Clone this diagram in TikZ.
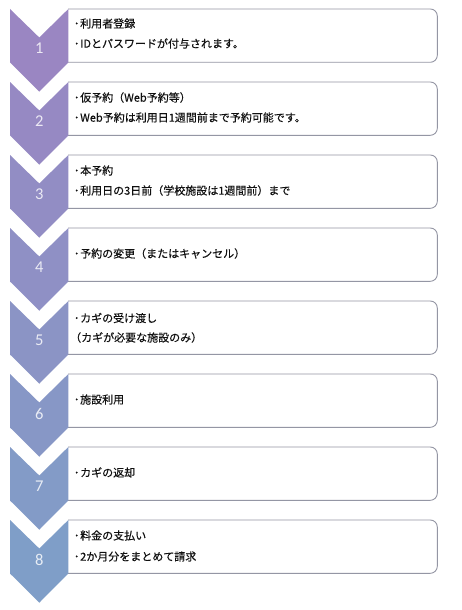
\documentclass[tikz,border=0pt]{standalone}
\usepackage{fontspec}
\setmainfont{Noto Sans CJK JP}[FakeBold=0.35]
\newfontfamily\jpfont{Noto Sans CJK JP}[FakeBold=0.35]
\newfontfamily\numfont{Carlito}
\definecolor{chevA}{HTML}{9A86C2}
\definecolor{chevB}{HTML}{7F9EC8}
\definecolor{boxline}{HTML}{9496A4}
\definecolor{txt}{HTML}{101010}
\tikzset{
  boxedge/.style={draw=boxline, line width=0.9pt, fill=white, rounded corners=7pt},
  numlabel/.style={font=\numfont\fontsize{16.5}{16}\selectfont, text=white, text opacity=0.82, inner sep=0},
  steptext/.style={anchor=west, inner sep=0, text=txt, font=\jpfont\fontsize{11}{12}\selectfont},
}
\newcommand{\bul}{\makebox[7pt]{･}}
\begin{document}
\begin{tikzpicture}[x=1pt,y=-1pt]
\useasboundingbox (0,0) rectangle (461,610);
\fill[white] (0,0) rectangle (461,610);
\foreach \i in {1,...,8}{
  \pgfmathsetmacro\t{9+73*(\i-1)}
  \pgfmathtruncatemacro\p{(\i-1)*100/7}
  \path[boxedge] (68,\t) -- (437.3,\t) -- (437.3,\t+53.3) -- (68,\t+53.3);
  \fill[chevB!\p!chevA] (10,\t) -- (39.3,\t+28.5) -- (68.3,\t) -- (68.3,\t+53.5) -- (39.3,\t+82.7) -- (10,\t+53.5) -- cycle;
  \node[numlabel] (n\i) at (39.3,\t+39.5) {\i};
}
% step texts
\node[steptext] (t1a) at (73,23.5) {\bul 利用者登録};
\node[steptext] (t1b) at (73,43.5) {\bul IDとパスワードが付与されます。};
\node[steptext] (t2a) at (73,97.5) {\bul 仮予約（Web予約等）};
\node[steptext] (t2b) at (73,117.5) {\bul Web予約は利用日1週間前まで予約可能です。};
\node[steptext] (t3a) at (73,170.5) {\bul 本予約};
\node[steptext] (t3b) at (73,190.5) {\bul 利用日の3日前（学校施設は1週間前）まで};
\node[steptext] (t4) at (73,253.5) {\bul 予約の変更（またはキャンセル）};
\node[steptext] (t5a) at (73,318) {\bul カギの受け渡し};
\node[steptext] (t5b) at (70,337.5) {（カギが必要な施設のみ）};
\node[steptext] (t6) at (73,399.5) {\bul 施設利用};
\node[steptext] (t7) at (73,472.5) {\bul カギの返却};
\node[steptext] (t8a) at (73,535.5) {\bul 料金の支払い};
\node[steptext] (t8b) at (73,556.5) {\bul 2か月分をまとめて請求};
\end{tikzpicture}
\end{document}
